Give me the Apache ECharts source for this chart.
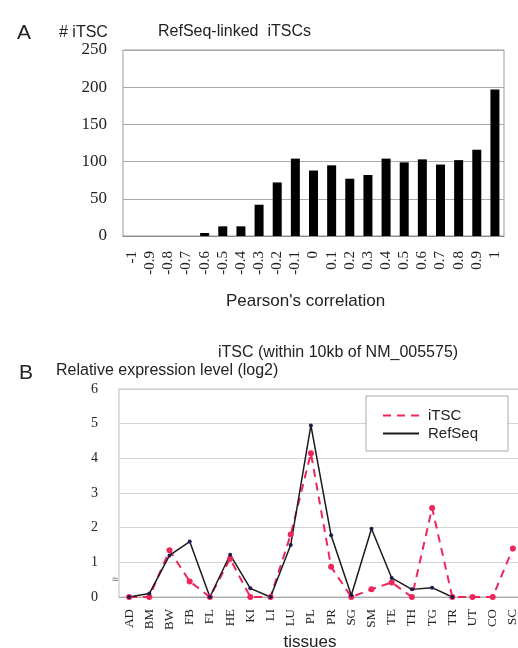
<!DOCTYPE html>
<html>
<head>
<meta charset="utf-8">
<script src="https://cdn.jsdelivr.net/npm/echarts@6/dist/echarts.min.js"></script>
<style>
  html, body { margin: 0; padding: 0; background: #fff; }
  #chart { width: 518px; height: 648px; }
</style>
</head>
<body>
<div id="chart"></div>
<script>
// panel A: histogram of Pearson's correlation
const corrLabels = ['-1', '-0.9', '-0.8', '-0.7', '-0.6', '-0.5', '-0.4', '-0.3', '-0.2', '-0.1', '0',
  '0.1', '0.2', '0.3', '0.4', '0.5', '0.6', '0.7', '0.8', '0.9', '1']
const itscCounts = [0, 0, 0, 0, 4, 13, 13, 42, 72, 104, 88, 95, 77, 82, 104, 99, 103, 96, 102, 116, 197]

// panel B: expression per tissue
const tissues = ['AD', 'BM', 'BW', 'FB', 'FL', 'HE', 'KI', 'LI', 'LU', 'PL', 'PR', 'SG', 'SM', 'TE', 'TH',
  'TG', 'TR', 'UT', 'CO', 'SC']
const itscLevel = [0, 0, 1.35, 0.45, 0, 1.1, 0, 0, 1.8, 4.15, 0.87, 0, 0.22, 0.42, 0, 2.57, 0, 0, 0, 1.4]
const refseqLevel = [0, 0.1, 1.2, 1.6, 0, 1.22, 0.25, 0, 1.5, 4.95, 1.78, 0.05, 1.97, 0.55, 0.22, 0.27, 0, null, null, null]

const serif = '"Liberation Serif", "Times New Roman", serif'
const sans = '"Liberation Sans", Arial, sans-serif'
const red = '#f0255a'

const txt = (size) => ({ fontFamily: sans, fontSize: size, fontWeight: 'normal', color: '#222' })

const chart = echarts.init(document.getElementById('chart'))
chart.setOption({
  animation: false,
  backgroundColor: '#fff',
  title: [
    { text: 'A', left: 12, top: 18, textStyle: txt(21) },
    { text: '# iTSC', left: 54, top: 20, textStyle: txt(16) },
    { text: 'RefSeq-linked  iTSCs', left: 153, top: 19, textStyle: txt(16) },
    { text: 'iTSC (within 10kb of NM_005575)', left: 213, top: 340, textStyle: txt(16) },
    { text: 'B', left: 14, top: 358, textStyle: txt(21) },
    { text: 'Relative expression level (log2)', left: 51, top: 358, textStyle: txt(16) }
  ],
  graphic: [
    { type: 'text', left: 112, top: 574, style: { text: '≈', fontSize: 11, fill: '#666' } }
  ],
  grid: [
    { left: 123, top: 50, width: 381, height: 186, show: true, borderColor: '#999', borderWidth: 1, containLabel: false, outerBoundsMode: 'none' },
    { left: 119, top: 389, width: 404, height: 208, show: true, borderColor: '#bbb', borderWidth: 1, containLabel: false, outerBoundsMode: 'none' }
  ],
  legend: {
    data: ['iTSC', 'RefSeq'],
    orient: 'vertical',
    left: 366,
    top: 396,
    padding: [12, 30, 10, 16],
    itemGap: 3,
    itemWidth: 36,
    itemHeight: 10,
    backgroundColor: '#fff',
    borderColor: '#aaa',
    borderWidth: 1,
    borderRadius: 0,
    itemStyle: { opacity: 0 },
    textStyle: { fontFamily: sans, fontSize: 15, color: '#222', padding: [0, 0, 0, 4] }
  },
  xAxis: [
    {
      gridIndex: 0,
      type: 'category',
      data: corrLabels,
      axisTick: { show: false },
      axisLine: { lineStyle: { color: '#888' } },
      axisLabel: { interval: 0, rotate: 90, margin: 15, fontFamily: serif, fontSize: 15, color: '#222' },
      name: "Pearson's correlation",
      nameLocation: 'middle',
      nameGap: 57,
      nameTextStyle: { fontFamily: sans, fontSize: 17, color: '#222', padding: [0, 16, 0, 0] }
    },
    {
      gridIndex: 1,
      type: 'category',
      data: tissues,
      axisTick: { show: false },
      axisLine: { lineStyle: { color: '#aaa' } },
      axisLabel: { interval: 0, rotate: 90, margin: 12, fontFamily: serif, fontSize: 13, color: '#222' },
      name: 'tissues',
      nameLocation: 'middle',
      nameGap: 29,
      nameTextStyle: { fontFamily: sans, fontSize: 17, color: '#222', padding: [0, 22, 0, 0] }
    }
  ],
  yAxis: [
    {
      gridIndex: 0,
      type: 'value',
      min: 0,
      max: 250,
      interval: 50,
      axisLine: { show: false },
      axisTick: { show: false },
      axisLabel: { margin: 16, fontFamily: serif, fontSize: 17, color: '#222' },
      splitLine: { lineStyle: { color: '#aaa' } }
    },
    {
      gridIndex: 1,
      type: 'value',
      min: 0,
      max: 6,
      interval: 1,
      axisLine: { show: false },
      axisTick: { show: false },
      axisLabel: { margin: 21, fontFamily: serif, fontSize: 14, color: '#222' },
      splitLine: { lineStyle: { color: '#d4d4d4' } }
    }
  ],
  series: [
    {
      name: 'count',
      type: 'bar',
      xAxisIndex: 0,
      yAxisIndex: 0,
      data: itscCounts,
      barWidth: 9,
      itemStyle: { color: '#000' }
    },
    {
      name: 'iTSC',
      type: 'line',
      xAxisIndex: 1,
      yAxisIndex: 1,
      data: itscLevel,
      symbol: 'circle',
      symbolSize: 6,
      itemStyle: { color: red },
      lineStyle: { color: red, width: 2, type: [8, 6] }
    },
    {
      name: 'RefSeq',
      type: 'line',
      xAxisIndex: 1,
      yAxisIndex: 1,
      data: refseqLevel,
      symbol: 'circle',
      symbolSize: 4,
      itemStyle: { color: '#1c1c50' },
      lineStyle: { color: '#1a1a1a', width: 1.5 }
    }
  ]
})
</script>
</body>
</html>
